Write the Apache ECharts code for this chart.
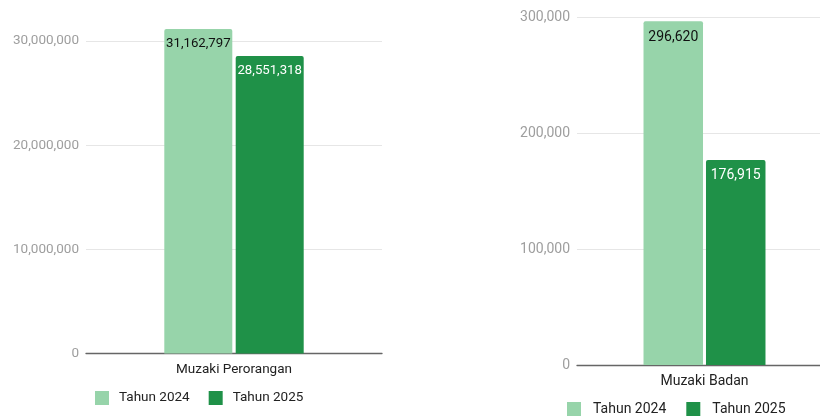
<!DOCTYPE html>
<html><head><meta charset="utf-8">
<script src="https://cdn.jsdelivr.net/npm/echarts@6/dist/echarts.min.js"></script>
<style>html,body{margin:0;padding:0;background:#fff}#c{width:820px;height:417px}</style>
</head><body><div id="c"></div>
<script>
const seriesNames = ['Tahun 2024', 'Tahun 2025'];
const leftCategories = ['Muzaki Perorangan'];
const leftValues2024 = [31162797];
const leftValues2025 = [28551318];
const rightCategories = ['Muzaki Badan'];
const rightValues2024 = [296620];
const rightValues2025 = [176915];
const colors = ['#97d4aa', '#1f9148'];

const font = 'Roboto';
const fmt = v => v.toLocaleString('en-US');

function bar(name, data, xi, color, labelColor, width, fs, dist) {
  return {
    name, type: 'bar', data, xAxisIndex: xi, yAxisIndex: xi,
    barWidth: width, barGap: '5%', clip: false,
    itemStyle: { color, borderRadius: [2, 2, 0, 0] },
    label: { show: true, position: 'insideTop', distance: dist, color: labelColor,
      fontFamily: font, fontSize: fs, formatter: p => fmt(p.value) }
  };
}
function yAxis(gi, max, interval, fs) {
  return {
    type: 'value', gridIndex: gi, min: 0, max, interval,
    axisLine: { show: false }, axisTick: { show: false },
    splitLine: { lineStyle: { color: '#e6e6e6' } },
    axisLabel: { color: '#9e9e9e', fontFamily: font, fontSize: fs, margin: 7, formatter: v => fmt(v) }
  };
}
function xAxis(gi, data, fs) {
  return {
    type: 'category', gridIndex: gi, data,
    axisLine: { lineStyle: { color: '#666', width: 1.3 } }, axisTick: { show: false },
    axisLabel: { color: '#222', fontFamily: font, fontSize: fs, margin: 9 }
  };
}
function legend(left, top, size, fs, gap, pad) {
  return { left, top, itemWidth: size, itemHeight: size, itemGap: gap, icon: 'rect', padding: 0,
    data: seriesNames, textStyle: { color: '#222', fontFamily: font, fontSize: fs, padding: [0, 0, 0, pad] } };
}
const chart = echarts.init(document.getElementById('c'));
chart.setOption({
  animation: false,
  grid: [
    { left: 86, width: 296, top: 41, height: 312.5, outerBoundsMode: 'none', containLabel: false },
    { left: 577, width: 255, top: 17.3, height: 347.7, outerBoundsMode: 'none', containLabel: false }
  ],
  xAxis: [xAxis(0, leftCategories, 13.5), xAxis(1, rightCategories, 14)],
  yAxis: [yAxis(0, 30000000, 10000000, 13.5), yAxis(1, 300000, 100000, 14)],
  legend: [legend(95, 391, 14, 13.5, 19, 5), legend(567, 402, 14, 14, 20, 7)],
  series: [
    bar(seriesNames[0], leftValues2024, 0, colors[0], '#111', 68, 13.2, 8),
    bar(seriesNames[1], leftValues2025, 0, colors[1], '#fff', 68, 13.2, 8),
    bar(seriesNames[0], rightValues2024, 1, colors[0], '#111', 59.5, 14, 9),
    bar(seriesNames[1], rightValues2025, 1, colors[1], '#fff', 59.5, 14, 9)
  ]
});
</script></body></html>
